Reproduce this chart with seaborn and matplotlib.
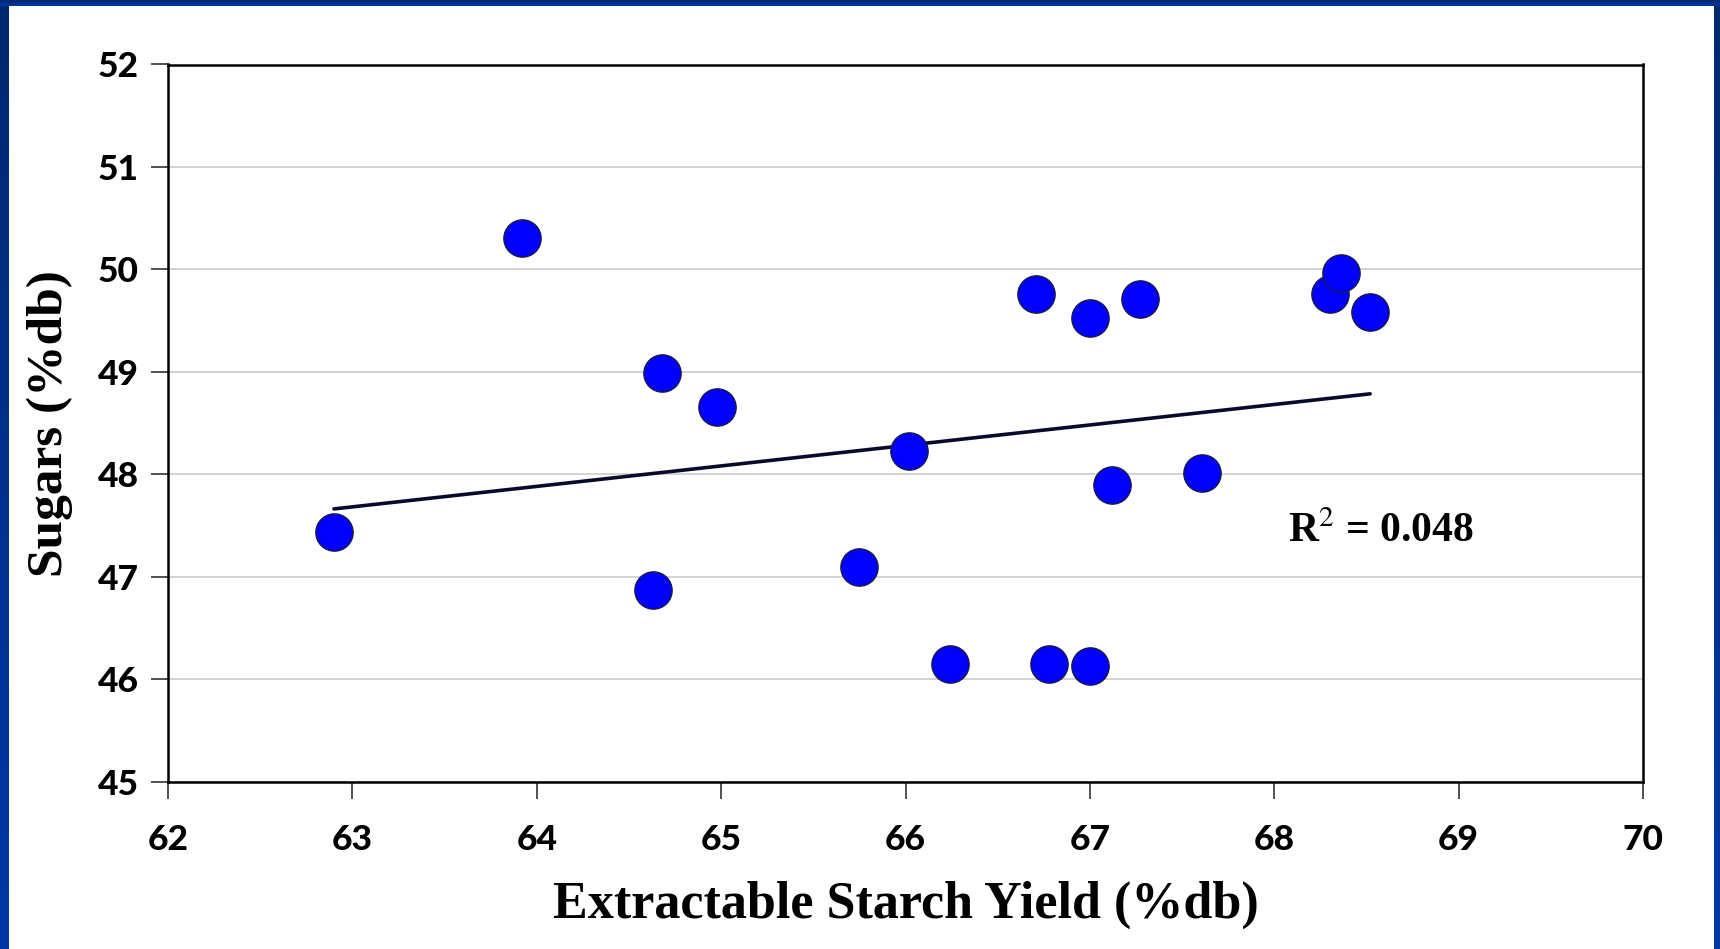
import numpy as np
import pandas as pd
import matplotlib
matplotlib.use("Agg")
import matplotlib.pyplot as plt
import seaborn as sns
from matplotlib.colors import LinearSegmentedColormap

starch_yield = [62.90, 63.92, 64.68, 64.63, 64.98, 65.75, 66.02, 66.24, 66.71,
                66.78, 67.00, 67.00, 67.27, 67.12, 67.61, 68.30, 68.36, 68.52]
sugars = [47.44, 50.31, 48.99, 46.87, 48.66, 47.10, 48.23, 46.15, 49.76,
          46.15, 49.53, 46.13, 49.71, 47.90, 48.01, 49.76, 49.97, 49.59]
x_ticks = [62, 63, 64, 65, 66, 67, 68, 69, 70]
y_ticks = [45, 46, 47, 48, 49, 50, 51, 52]
r2_label = "R$^2$ = 0.048"

df = pd.DataFrame({"x": starch_yield, "y": sugars})

sns.set_theme(style="white")
plt.rcParams['font.family'] = ['Lato', 'DejaVu Sans']
plt.rcParams['text.color'] = 'black'
plt.rcParams['axes.labelcolor'] = 'black'
plt.rcParams['xtick.color'] = 'black'
plt.rcParams['ytick.color'] = 'black'

W, H = 1720, 949
fig = plt.figure(figsize=(W / 100, H / 100), dpi=100)
fig.patch.set_facecolor("white")

# blue slide frame
grad = np.linspace(0, 1, 256).reshape(-1, 1)
cmap = LinearSegmentedColormap.from_list("b", ["#002870", "#0038a8"])
for (x0, y0, w, h) in [(0, 0, 9 / W, 1), (1 - 6 / W, 0, 6 / W, 1), (0, 1 - 6 / H, 1, 6 / H)]:
    bax = fig.add_axes([x0, y0, w, h])
    bax.imshow(grad, aspect="auto", cmap=cmap, extent=[0, 1, 0, 1])
    bax.axis("off")

ax = fig.add_axes([168 / W, (H - 782) / H, (1643 - 168) / W, (782 - 64.5) / H])
ax.set_facecolor("white")

ax.yaxis.grid(True, color="#cccccc", linewidth=1.2)
ax.set_axisbelow(True)

sns.regplot(data=df, x="x", y="y", scatter=False, ci=None, ax=ax,
            line_kws=dict(color="#0a0a30", linewidth=2.6, zorder=2))
sns.scatterplot(data=df, x="x", y="y", ax=ax, s=720, color="#0000ff",
                edgecolor="#1a1a4a", linewidth=1.0, zorder=3)

ax.set_xlim(62, 70)
ax.set_ylim(45, 52)
ax.set_xticks(x_ticks)
ax.set_yticks(y_ticks)
ax.set_xticklabels([str(t) for t in x_ticks], fontsize=25.5, fontweight="black")
ax.set_yticklabels([str(t) for t in y_ticks], fontsize=25.5, fontweight="black")
ax.tick_params(axis="both", direction="out", length=12, width=1.2, color="#333333",
               bottom=True, left=True)
ax.tick_params(axis="x", pad=18)
ax.tick_params(axis="y", pad=9)

for sp in ax.spines.values():
    sp.set_color("black")
    sp.set_linewidth(1.8)

ax.set_xlabel("Extractable Starch Yield (%db)", fontsize=37.5, fontweight="bold",
              family=["Liberation Serif", "DejaVu Serif"], labelpad=18)
ax.set_ylabel("Sugars (%db)", fontsize=37, fontweight="bold",
              family=["Liberation Serif", "DejaVu Serif"], labelpad=18)

ax.text(68.58, 47.44, r2_label, fontsize=30, fontweight="bold",
        family=["Liberation Serif", "DejaVu Serif"], ha="center", va="center",
        math_fontfamily="stix")

fig.savefig("out.png", dpi=100, facecolor="white")
